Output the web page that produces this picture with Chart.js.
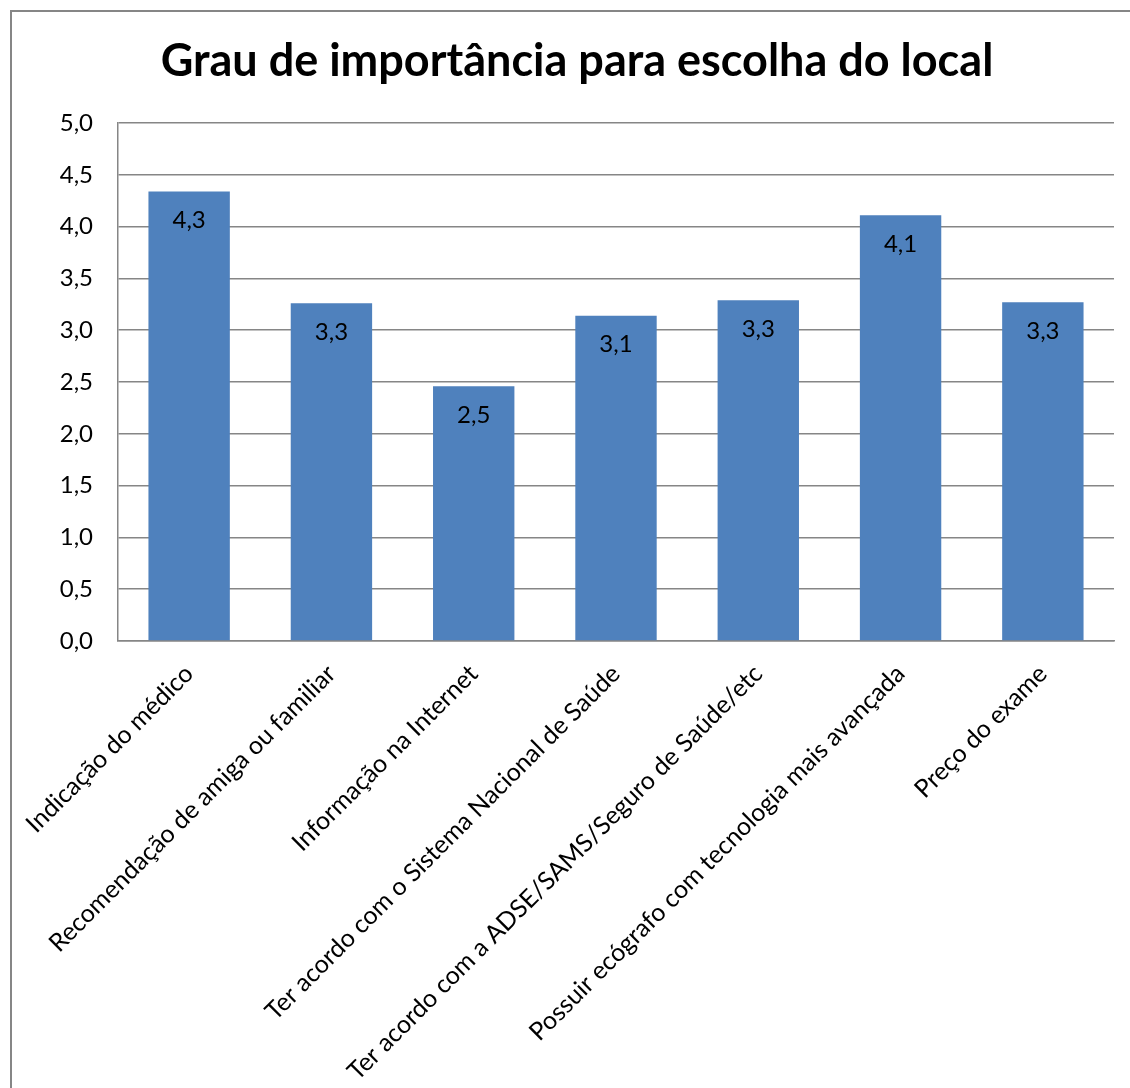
<!DOCTYPE html>
<html lang="pt">
<head>
<meta charset="utf-8">
<title>Grau de importância para escolha do local</title>
<script src="https://cdn.jsdelivr.net/npm/chart.js@4.4.1/dist/chart.umd.min.js"></script>
<style>
  html, body { margin: 0; padding: 0; background: #ffffff; }
  #wrap { position: relative; width: 1130px; height: 1088px; }
</style>
</head>
<body>
<div id="wrap"><canvas id="chart"></canvas></div>
<script>
const chartTitle = 'Grau de importância para escolha do local';

const categories = [
  'Indicação do médico',
  'Recomendação de amiga ou familiar',
  'Informação na Internet',
  'Ter acordo com o Sistema Nacional de Saúde',
  'Ter acordo com a ADSE/SAMS/Seguro de Saúde/etc',
  'Possuir ecógrafo com tecnologia mais avançada',
  'Preço do exame'
];

// mean importance score per criterion
const scores = [4.34, 3.26, 2.46, 3.14, 3.29, 4.11, 3.27];

const yTicks = [0, 0.5, 1, 1.5, 2, 2.5, 3, 3.5, 4, 4.5, 5];

const fmt = v => v.toFixed(1).replace('.', ',');

const FONT = 'Lato, Calibri, "Open Sans", sans-serif';

// outer frame of the chart object
const framePlugin = {
  id: 'frame',
  afterDraw(chart) {
    const ctx = chart.ctx;
    ctx.save();
    ctx.strokeStyle = '#868686';
    ctx.lineWidth = 2;
    ctx.beginPath();
    ctx.moveTo(11, chart.height + 5);
    ctx.lineTo(11, 11);
    ctx.lineTo(chart.width + 5, 11);
    ctx.stroke();
    ctx.restore();
  }
};

// value labels just inside the top of each bar
const valueLabels = {
  id: 'valueLabels',
  afterDatasetsDraw(chart) {
    const ctx = chart.ctx;
    const meta = chart.getDatasetMeta(0);
    ctx.save();
    ctx.font = '24px ' + FONT;
    ctx.fillStyle = '#000000';
    ctx.textAlign = 'center';
    ctx.textBaseline = 'middle';
    meta.data.forEach((bar, i) => {
      ctx.fillText(fmt(chart.data.datasets[0].data[i]), bar.x, bar.y + 29);
    });
    ctx.restore();
  }
};

new Chart(document.getElementById('chart'), {
  type: 'bar',
  data: {
    labels: categories,
    datasets: [{
      data: scores,
      backgroundColor: '#4F81BD',
      borderWidth: 0,
      barPercentage: 0.572,
      categoryPercentage: 1.0
    }]
  },
  options: {
    responsive: true,
    maintainAspectRatio: false,
    animation: false,
    layout: { padding: { left: 40, right: 16, top: 0, bottom: 0 } },
    plugins: {
      legend: { display: false },
      tooltip: { enabled: false },
      title: {
        display: true,
        text: chartTitle,
        color: '#000000',
        font: { family: FONT, size: 45, weight: 'bold', lineHeight: 1.2 },
        padding: { top: 34, bottom: 35 }
      }
    },
    scales: {
      x: {
        grid: { display: false, drawTicks: false },
        border: { display: true, color: '#868686', width: 1.5 },
        ticks: {
          autoSkip: false,
          minRotation: 45,
          maxRotation: 45,
          padding: 18,
          color: '#000000',
          font: { family: FONT, size: 25 }
        },
        afterFit(scale) { scale.height = 447; }
      },
      y: {
        min: 0,
        max: 5,
        afterBuildTicks(scale) { scale.ticks = yTicks.map(v => ({ value: v })); },
        grid: { color: '#868686', lineWidth: 1.5, drawTicks: false },
        border: { display: true, color: '#868686', width: 1.5 },
        ticks: {
          padding: 25,
          color: '#000000',
          font: { family: FONT, size: 24 },
          callback: v => fmt(v)
        },
        afterFit(scale) { scale.width = 78; }
      }
    }
  },
  plugins: [framePlugin, valueLabels]
});
</script>
</body>
</html>
